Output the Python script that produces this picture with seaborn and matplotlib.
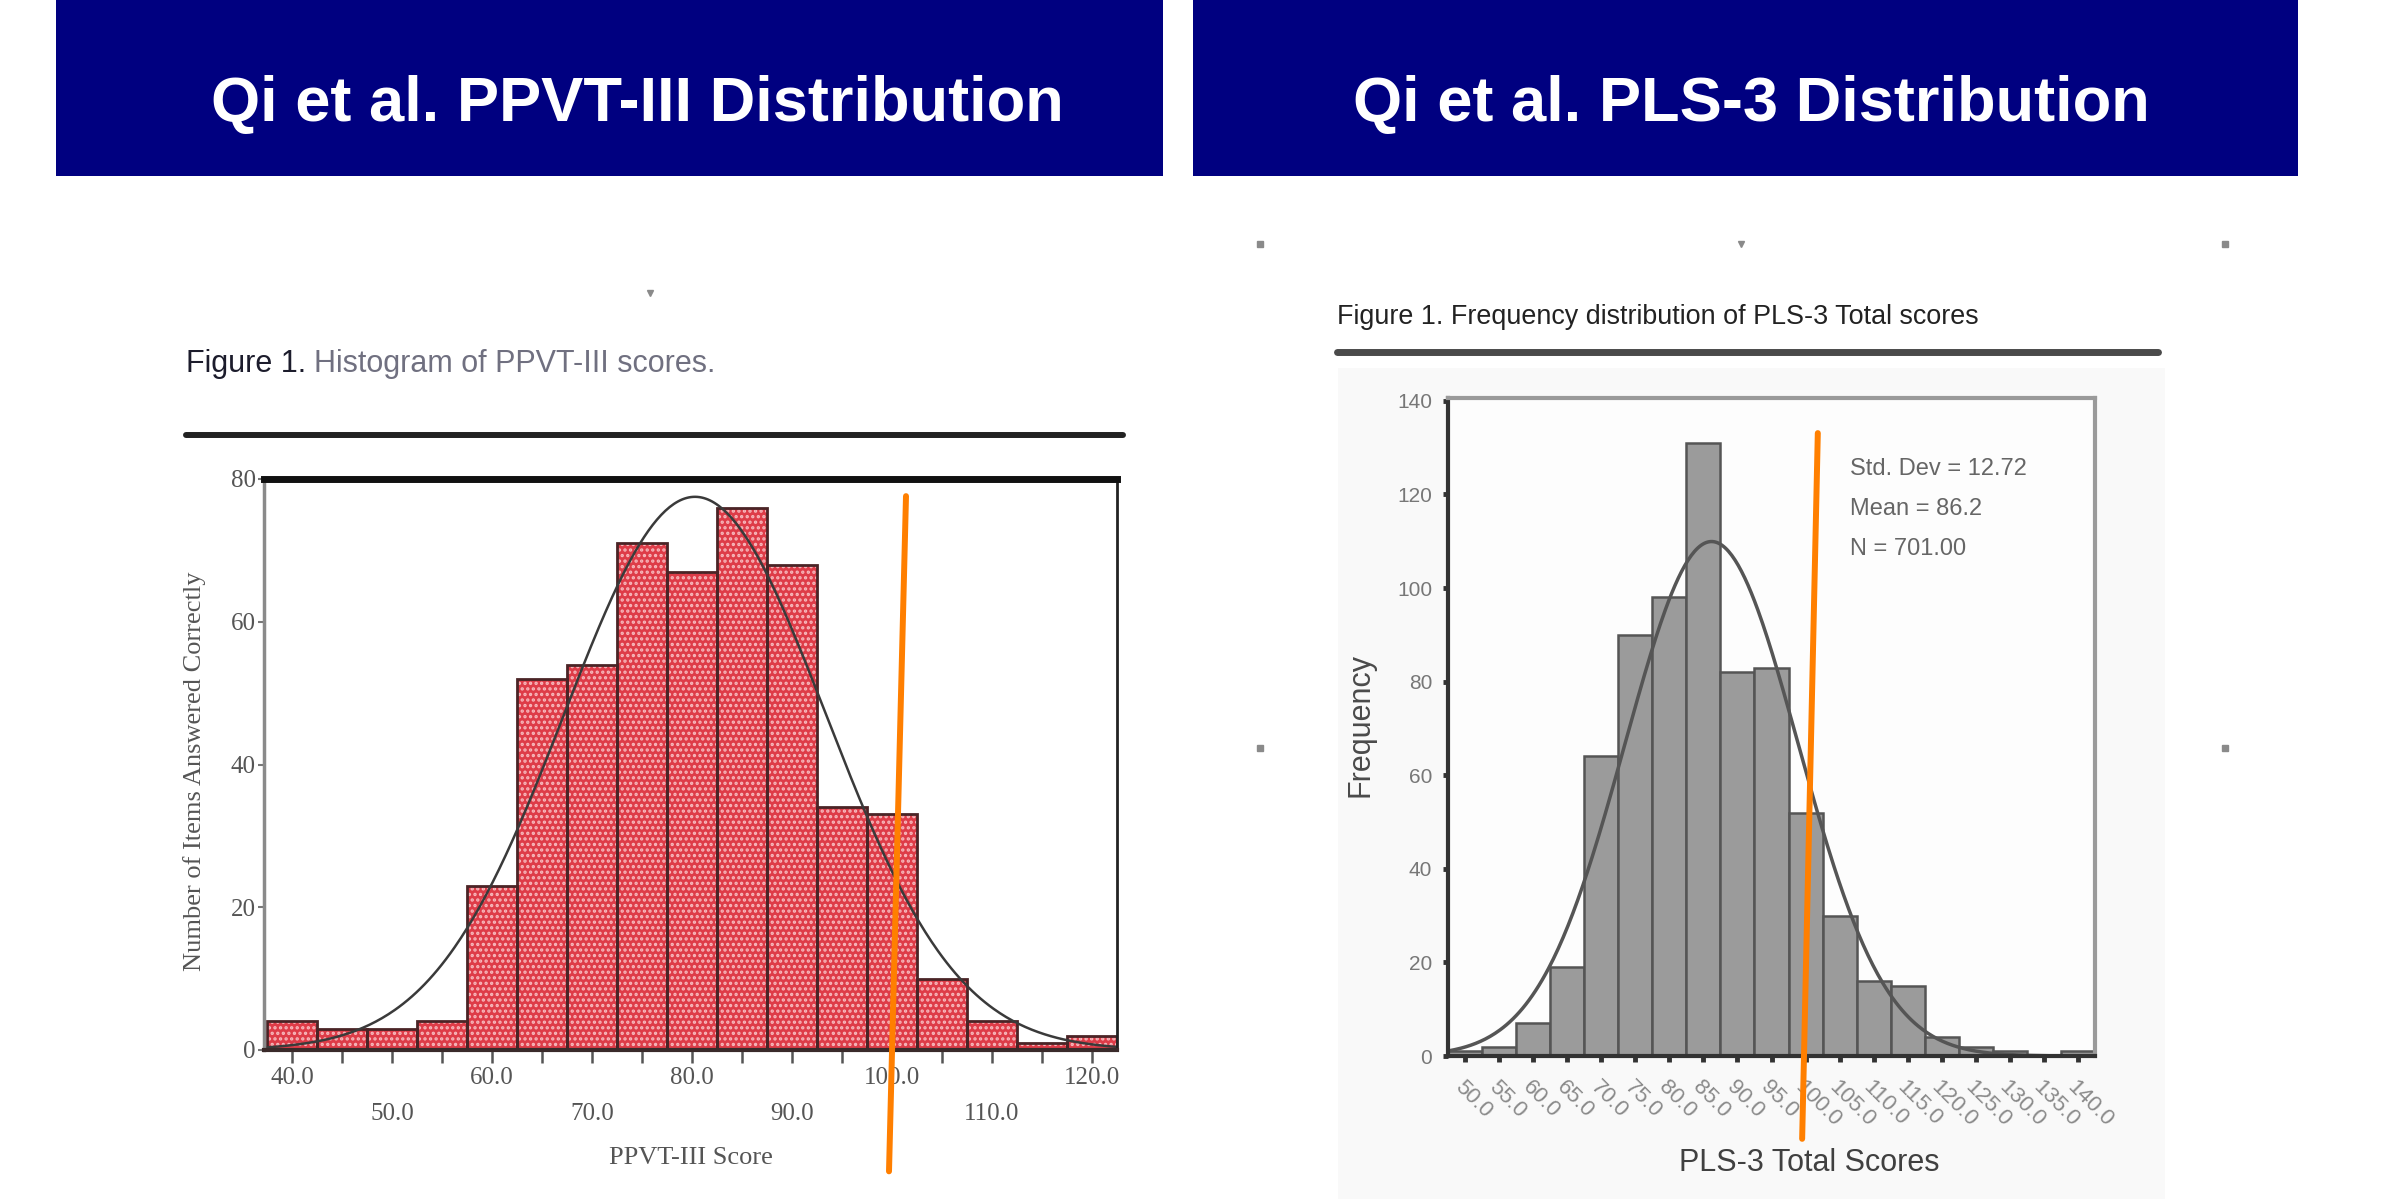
import matplotlib
matplotlib.use("Agg")
import matplotlib.pyplot as plt
import matplotlib.transforms as mtransforms
import numpy as np
import pandas as pd
import seaborn as sns
from matplotlib.lines import Line2D
from matplotlib.patches import Rectangle
from matplotlib.ticker import FixedLocator, FuncFormatter

# PPVT-III histogram (left panel)
ppvt_centers = [40, 45, 50, 55, 60, 65, 70, 75, 80, 85, 90, 95, 100, 105, 110, 115, 120]
ppvt_counts = [4, 3, 3, 4, 23, 52, 54, 71, 67, 76, 68, 34, 33, 10, 4, 1, 2]
ppvt_mean = 80.3
ppvt_sd = 13.1
ppvt_major = [40, 60, 80, 100, 120]
ppvt_minor = [45, 50, 55, 65, 70, 75, 85, 90, 95, 105, 110, 115]
ppvt_minor_labeled = [50, 70, 90, 110]
ppvt_yticks = [0, 20, 40, 60, 80]

# PLS-3 histogram (right panel)
pls_centers = [50, 55, 60, 65, 70, 75, 80, 85, 90, 95, 100, 105, 110, 115, 120, 125, 130, 135, 140]
pls_counts = [1, 2, 7, 19, 64, 90, 98, 131, 82, 83, 52, 30, 16, 15, 4, 2, 1, 0, 1]
pls_mean = 86.2
pls_sd = 12.72
pls_n = 701
pls_yticks = [0, 20, 40, 60, 80, 100, 120, 140]

bin_width = 5

banner_titles = ["Qi et al. PPVT-III Distribution", "Qi et al. PLS-3 Distribution"]
left_caption = ("Figure 1.", "Histogram of PPVT-III scores.")
right_caption = "Figure 1. Frequency distribution of PLS-3 Total scores"

# hand drawn orange marks (data coords of each panel)
left_mark = ([101.4, 99.7], [77.6, -17.0])
right_mark = ([101.8, 99.5], [133.1, -17.7])

W, H = 2393, 1199
SANS = "Liberation Sans"
SERIF = "Liberation Serif"


def fx(px):
    return px / W


def fy(py):
    return 1 - py / H


def edges_from(centers):
    c = np.asarray(centers, dtype=float)
    return [float(v) for v in np.append(c - bin_width / 2, c[-1] + bin_width / 2)]


def normal_curve(mean, sd, n, lo, hi):
    xs = np.linspace(lo, hi, 400)
    ys = n * bin_width * np.exp(-0.5 * ((xs - mean) / sd) ** 2) / (sd * np.sqrt(2 * np.pi))
    return xs, ys


sns.set_theme(style="white")
plt.rcParams["font.family"] = [SANS, "DejaVu Sans"]
plt.rcParams["hatch.linewidth"] = 1.6

fig = plt.figure(figsize=(W / 100, H / 100), dpi=100)
fig.patch.set_facecolor("white")

# faint scanned-page background behind right figure
fig.add_artist(Rectangle((fx(1338), 0), fx(2165) - fx(1338), fy(368), transform=fig.transFigure,
                         facecolor="#f9f9f9", edgecolor="none", zorder=0))

# banners
for (x0, x1, tx), title in zip([(56, 1163, 637), (1193, 2298, 1751)], banner_titles):
    fig.add_artist(Rectangle((fx(x0), fy(176)), fx(x1) - fx(x0), 176 / H, transform=fig.transFigure,
                             facecolor="#000080", edgecolor="none"))
    fig.text(fx(tx), fy(121), title, ha="center", va="baseline", color="white",
             fontsize=45.5, fontweight="bold", family=SANS)

# captions and rules
t1 = fig.text(fx(186), fy(372), left_caption[0], ha="left", va="baseline", fontsize=22,
              color="#1c1c2c", family=SANS)
fig.add_artist(Line2D([fx(186), fx(1123)], [fy(435)] * 2, transform=fig.transFigure,
                      color="#222222", linewidth=4.3))
fig.text(fx(1337), fy(324), right_caption, ha="left", va="baseline", fontsize=19.4,
         color="#222222", family=SANS)
fig.add_artist(Line2D([fx(1337), fx(2158)], [fy(352)] * 2, transform=fig.transFigure,
                      color="#4a4a4a", linewidth=5))

# small scan specks
for (px, py, m) in [(650, 293, "v"), (1260, 244, "s"), (1741, 244, "v"), (2225, 244, "s"),
                    (1260, 748, "s"), (2225, 748, "s")]:
    fig.add_artist(Line2D([fx(px)], [fy(py)], transform=fig.transFigure, marker=m,
                          markersize=5, color="#8a8a8a", linestyle="none"))

# ---------------- left panel ----------------
ax1 = fig.add_axes([fx(264), fy(1050), (1117 - 264) / W, (1050 - 479) / H])
df1 = pd.DataFrame({"score": ppvt_centers, "count": ppvt_counts})
e1 = edges_from(ppvt_centers)
sns.histplot(data=df1, x="score", weights="count", bins=e1, ax=ax1, color="#de3c48",
             edgecolor="#f7b9bd", linewidth=0, alpha=1, hatch="...")
sns.histplot(data=df1, x="score", weights="count", bins=e1, ax=ax1, fill=False,
             color="#4a2426", linewidth=2)
xs, ys = normal_curve(ppvt_mean, ppvt_sd, sum(ppvt_counts), e1[0], e1[-1])
sns.lineplot(x=xs, y=ys, ax=ax1, color="#3a3a3a", linewidth=1.8)

ax1.set_xlim(37.2, 122.5)
ax1.set_ylim(0, 80)
ax1.set_xlabel("")
ax1.set_ylabel("")
ax1.xaxis.set_major_locator(FixedLocator(ppvt_major))
ax1.xaxis.set_major_formatter(FuncFormatter(lambda v, p: f"{v:.1f}"))
ax1.xaxis.set_minor_locator(FixedLocator(ppvt_minor))
ax1.xaxis.set_minor_formatter(FuncFormatter(lambda v, p: f"{v:.1f}" if round(v) in ppvt_minor_labeled else ""))
ax1.set_yticks(ppvt_yticks)
ax1.set_yticklabels([str(v) for v in ppvt_yticks])
ax1.tick_params(axis="x", which="both", direction="out", length=9, width=1.8, color="#555555",
                labelsize=18, labelcolor="#555555", bottom=True, labelfontfamily=SERIF)
ax1.tick_params(axis="x", which="major", pad=3)
ax1.tick_params(axis="x", which="minor", pad=29)
ax1.tick_params(axis="y", direction="out", length=4, width=1.5, color="#777777", labelsize=18,
                labelcolor="#555555", left=True, pad=2, labelfontfamily=SERIF)
ax1.spines["top"].set(color="#111111", linewidth=5)
ax1.spines["right"].set(color="#222222", linewidth=2)
ax1.spines["left"].set(color="#8a8a8a", linewidth=2.5)
ax1.spines["bottom"].set(color="#3a2a2a", linewidth=3)
ax1.text(0.5, -0.189, "PPVT-III Score", transform=ax1.transAxes, ha="center", va="center",
         fontsize=19, color="#555555", family=SERIF)
ax1.text(-0.081, 0.489, "Number of Items Answered Correctly", transform=ax1.transAxes,
         ha="center", va="center", rotation=90, fontsize=19, color="#555555", family=SERIF)
ax1.annotate(left_caption[1], xy=(1, 0), xycoords=t1, xytext=(6, 0), textcoords="offset points",
             ha="left", va="bottom", fontsize=22, color="#707080", family=SANS)
ax1.plot(*left_mark, color="#ff7f00", linewidth=4.3, clip_on=False, zorder=10)

# ---------------- right panel ----------------
ax2 = fig.add_axes([fx(1448), fy(1056), (2095 - 1448) / W, (1056 - 398) / H])
ax2.set_facecolor("#fdfdfd")
df2 = pd.DataFrame({"score": pls_centers, "count": pls_counts})
e2 = edges_from(pls_centers)
sns.histplot(data=df2, x="score", weights="count", bins=e2, ax=ax2, color="#9b9b9b",
             edgecolor="#555555", linewidth=1.8, alpha=1)
xs, ys = normal_curve(pls_mean, pls_sd, pls_n, e2[0], e2[-1])
sns.lineplot(x=xs, y=ys, ax=ax2, color="#555555", linewidth=2.5)

ax2.set_xlim(e2[0], e2[-1])
ax2.set_ylim(0, 140.6)
ax2.set_xlabel("")
ax2.set_ylabel("")
ax2.set_yticks(pls_yticks)
ax2.set_yticklabels([str(v) for v in pls_yticks])
ax2.set_xticks(pls_centers)
ax2.set_xticklabels([f"{v:.1f}" for v in pls_centers], rotation=-45, ha="left", va="top",
                    rotation_mode="anchor")
offset = mtransforms.ScaledTranslation(0.18, 0, fig.dpi_scale_trans)
for lab in ax2.get_xticklabels():
    lab.set_transform(lab.get_transform() + offset)
ax2.tick_params(axis="x", direction="out", length=4, width=3.5, color="#333333", labelsize=16,
                labelcolor="#8a8a8a", bottom=True, pad=11)
ax2.tick_params(axis="y", direction="out", length=3.5, width=3.5, color="#333333", labelsize=15,
                labelcolor="#777777", left=True, pad=8)
for side in ["top", "right"]:
    ax2.spines[side].set(color="#9a9a9a", linewidth=3)
for side in ["left", "bottom"]:
    ax2.spines[side].set(color="#333333", linewidth=3)
ax2.text(0.558, -0.163, "PLS-3 Total Scores", transform=ax2.transAxes, ha="center", va="center",
         fontsize=22, color="#404040")
ax2.text(-0.136, 0.503, "Frequency", transform=ax2.transAxes, ha="center", va="center",
         rotation=90, fontsize=22, color="#4a4a4a")
stats = [f"Std. Dev = {pls_sd:.2f}", f"Mean = {pls_mean:.1f}", f"N = {pls_n:.2f}"]
for i, s in enumerate(stats):
    ax2.text(0.621, 0.883 - i * 0.061, s, transform=ax2.transAxes, ha="left", va="baseline",
             fontsize=17, color="#666666")
ax2.plot(*right_mark, color="#ff7f00", linewidth=4.3, clip_on=False, zorder=10)

fig.savefig("out.png", dpi=100)
